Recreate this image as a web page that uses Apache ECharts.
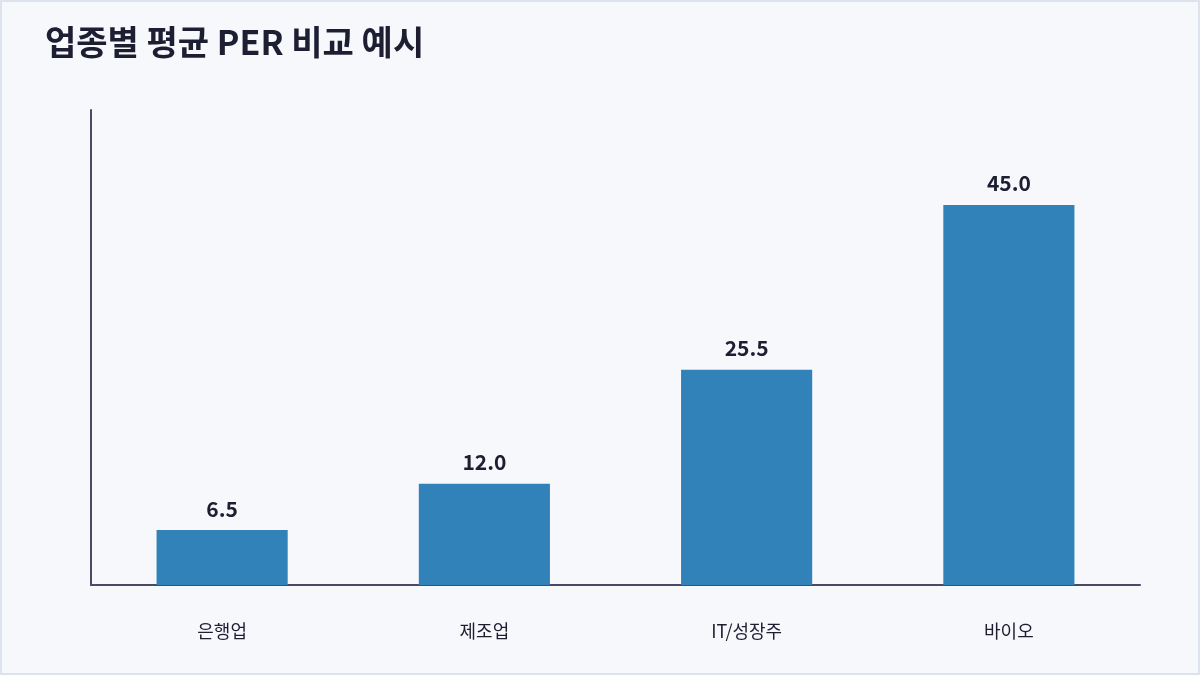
<!DOCTYPE html>
<html>
<head>
<meta charset="utf-8">
<script src="https://cdn.jsdelivr.net/npm/echarts@6/dist/echarts.min.js"></script>
<style>
  html, body { margin: 0; padding: 0; background: #f7f8fc; }
  #main { width: 1200px; height: 675px; }
</style>
</head>
<body>
<div id="main"></div>
<script>
var categories = ['은행업', '제조업', 'IT/성장주', '바이오'];
var perValues = [6.5, 12.0, 25.5, 45.0];
var titleText = '업종별 평균 PER 비교 예시';

var myChart = echarts.init(document.getElementById('main'));
var font = '"Noto Sans CJK KR", "Noto Sans", sans-serif';

option = {
    backgroundColor: '#f7f8fc',
    animation: false,
    textStyle: { fontFamily: font },
    title: {
        text: titleText,
        left: 40,
        top: 20,
        textStyle: {
            color: '#1e1e32',
            fontSize: 34,
            fontWeight: 'bold',
            fontFamily: font
        }
    },
    graphic: [{
        type: 'rect',
        shape: { x: 1, y: 1, width: 1198, height: 673 },
        style: { fill: 'none', stroke: '#dde3ec', lineWidth: 2 },
        silent: true
    }],
    grid: { left: 91, right: 60, top: 110, bottom: 90 },
    xAxis: {
        type: 'category',
        data: categories,
        axisLine: { lineStyle: { color: '#4a4a68', width: 2 } },
        axisTick: { show: false },
        axisLabel: {
            color: '#1e1e32',
            fontSize: 18,
            margin: 37,
            fontFamily: font
        }
    },
    yAxis: {
        type: 'value',
        min: 0,
        max: 56.25,
        axisLine: { show: true, lineStyle: { color: '#4a4a68', width: 2 } },
        axisTick: { show: false },
        axisLabel: { show: false },
        splitLine: { show: false }
    },
    series: [{
        type: 'bar',
        data: perValues,
        barWidth: '50%',
        itemStyle: { color: '#3182b8' },
        label: {
            show: true,
            position: 'top',
            distance: 11,
            color: '#1e1e32',
            fontSize: 21,
            fontWeight: 'bold',
            fontFamily: font,
            formatter: function (p) { return p.value.toFixed(1); }
        }
    }]
};
myChart.setOption(option);
</script>
</body>
</html>
